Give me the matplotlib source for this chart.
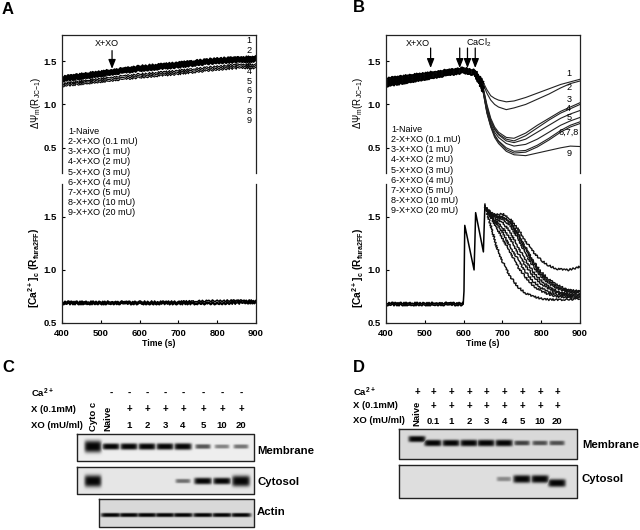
import numpy as np
import matplotlib
matplotlib.use("Agg")
import matplotlib.pyplot as plt

plt.rcParams['font.family'] = ['Liberation Sans', 'DejaVu Sans']
plt.rcParams['mathtext.fontset'] = 'custom'
plt.rcParams['mathtext.rm'] = 'Liberation Sans'
plt.rcParams['mathtext.bf'] = 'Liberation Sans:bold'
plt.rcParams['mathtext.it'] = 'Liberation Sans:italic'

# ---------- data ----------
legend_labels = ['1-Naive', '2-X+XO (0.1 mU)', '3-X+XO (1 mU)', '4-X+XO (2 mU)', '5-X+XO (3 mU)',
                 '6-X+XO (4 mU)', '7-X+XO (5 mU)', '8-X+XO (10 mU)', '9-X+XO (20 mU)']

time_a = [400, 500, 600, 700, 800, 860, 900]
psi_a1 = [1.32, 1.38, 1.44, 1.48, 1.53, 1.54, 1.55]
psi_a2 = [1.31, 1.37, 1.43, 1.47, 1.52, 1.53, 1.54]
psi_a3 = [1.30, 1.36, 1.42, 1.46, 1.51, 1.52, 1.53]
psi_a4 = [1.29, 1.35, 1.41, 1.45, 1.50, 1.51, 1.52]
psi_a5 = [1.28, 1.34, 1.40, 1.44, 1.49, 1.50, 1.51]
psi_a6 = [1.27, 1.33, 1.39, 1.43, 1.48, 1.49, 1.50]
psi_a7 = [1.24, 1.30, 1.35, 1.39, 1.44, 1.46, 1.46]
psi_a8 = [1.23, 1.28, 1.33, 1.37, 1.42, 1.44, 1.44]
psi_a9 = [1.21, 1.26, 1.31, 1.35, 1.40, 1.42, 1.42]
psi_a = [psi_a1, psi_a2, psi_a3, psi_a4, psi_a5, psi_a6, psi_a7, psi_a8, psi_a9]

ca_time_a = [400, 500, 600, 700, 800, 900]
ca_a1 = [0.70, 0.70, 0.70, 0.70, 0.71, 0.71]
ca_a2 = [0.69, 0.69, 0.69, 0.69, 0.69, 0.70]
ca_a3 = [0.68, 0.68, 0.68, 0.68, 0.68, 0.69]

time_b = [400, 500, 600, 630, 650, 660, 670, 680, 690, 710, 730, 760, 790, 820, 850, 875, 900]
psi_b1 = [1.30, 1.36, 1.42, 1.39, 1.26, 1.17, 1.10, 1.07, 1.05, 1.03, 1.04, 1.08, 1.13, 1.18, 1.23, 1.26, 1.29]
psi_b2 = [1.28, 1.34, 1.41, 1.37, 1.24, 1.13, 1.05, 1.00, 0.97, 0.94, 0.96, 1.00, 1.06, 1.12, 1.19, 1.24, 1.27]
psi_b3 = [1.27, 1.33, 1.40, 1.36, 1.20, 1.00, 0.84, 0.74, 0.68, 0.62, 0.61, 0.67, 0.76, 0.84, 0.92, 0.97, 1.02]
psi_b4 = [1.26, 1.33, 1.39, 1.36, 1.20, 0.98, 0.82, 0.72, 0.66, 0.60, 0.58, 0.64, 0.73, 0.82, 0.90, 0.95, 1.00]
psi_b5 = [1.25, 1.32, 1.39, 1.36, 1.19, 0.96, 0.80, 0.71, 0.65, 0.58, 0.56, 0.60, 0.68, 0.76, 0.84, 0.89, 0.93]
psi_b6 = [1.24, 1.31, 1.38, 1.35, 1.18, 0.94, 0.78, 0.68, 0.62, 0.55, 0.52, 0.54, 0.60, 0.68, 0.76, 0.81, 0.85]
psi_b7 = [1.23, 1.31, 1.38, 1.35, 1.16, 0.92, 0.76, 0.65, 0.58, 0.50, 0.46, 0.47, 0.53, 0.61, 0.70, 0.76, 0.80]
psi_b8 = [1.22, 1.30, 1.37, 1.34, 1.16, 0.91, 0.75, 0.64, 0.57, 0.48, 0.44, 0.45, 0.51, 0.59, 0.68, 0.74, 0.78]
psi_b9 = [1.21, 1.29, 1.37, 1.34, 1.15, 0.90, 0.74, 0.62, 0.55, 0.46, 0.42, 0.41, 0.44, 0.47, 0.50, 0.52, 0.515]
psi_b = [psi_b1, psi_b2, psi_b3, psi_b4, psi_b5, psi_b6, psi_b7, psi_b8, psi_b9]

spike_time = [400, 500, 599, 601, 603, 627, 629, 631, 651, 653, 655]
spike_ca = [0.68, 0.68, 0.68, 0.80, 1.42, 1.00, 1.25, 1.54, 1.17, 1.40, 1.62]
decay_time = [655, 670, 685, 700, 720, 740, 760, 780, 800, 820, 840, 870, 900]
ca_b1 = [1.60, 1.42, 1.22, 1.08, 0.94, 0.84, 0.78, 0.75, 0.73, 0.72, 0.72, 0.72, 0.73]
ca_b2 = [1.60, 1.50, 1.40, 1.30, 1.17, 1.03, 0.93, 0.85, 0.80, 0.77, 0.75, 0.74, 0.74]
ca_b3 = [1.60, 1.50, 1.44, 1.36, 1.22, 1.10, 0.98, 0.89, 0.83, 0.79, 0.77, 0.75, 0.75]
ca_b4 = [1.60, 1.50, 1.46, 1.40, 1.30, 1.16, 1.04, 0.94, 0.87, 0.82, 0.79, 0.76, 0.76]
ca_b5 = [1.60, 1.52, 1.48, 1.45, 1.36, 1.22, 1.09, 0.98, 0.90, 0.84, 0.80, 0.77, 0.77]
ca_b6 = [1.60, 1.52, 1.50, 1.48, 1.42, 1.30, 1.15, 1.03, 0.94, 0.87, 0.83, 0.79, 0.78]
ca_b7 = [1.60, 1.53, 1.50, 1.50, 1.45, 1.33, 1.19, 1.06, 0.96, 0.89, 0.84, 0.80, 0.79]
ca_b8 = [1.60, 1.53, 1.51, 1.50, 1.46, 1.35, 1.21, 1.08, 0.98, 0.91, 0.86, 0.81, 0.80]
ca_b9 = [1.60, 1.54, 1.52, 1.53, 1.48, 1.39, 1.27, 1.17, 1.09, 1.04, 1.01, 1.00, 1.03]
ca_b = [ca_b1, ca_b2, ca_b3, ca_b4, ca_b5, ca_b6, ca_b7, ca_b8, ca_b9]

lanes_c = ['Cyto c', 'Naive', '1', '2', '3', '4', '5', '10', '20']
c_membrane = [1.00, 0.90, 0.95, 0.95, 0.95, 1.00, 0.50, 0.35, 0.40]
c_cytosol = [1.00, 0.00, 0.00, 0.00, 0.00, 0.40, 1.00, 1.00, 1.00]
c_actin = [0.00, 0.85, 0.85, 0.85, 0.85, 0.85, 0.85, 0.85, 0.85]
lanes_d = ['Naive', '0.1', '1', '2', '3', '4', '5', '10', '20']
d_membrane = [0.90, 0.95, 0.95, 1.00, 1.00, 1.00, 0.55, 0.50, 0.50]
d_cytosol = [0.00, 0.00, 0.00, 0.00, 0.00, 0.30, 1.00, 1.00, 1.00]

# ---------- layout ----------
W, H = 640, 530
fig = plt.figure(figsize=(W / 100, H / 100), dpi=100, facecolor='white')


def ax_px(l, t, r, b, **kw):
    return fig.add_axes([l / W, 1 - b / H, (r - l) / W, (b - t) / H], **kw)


XL, XR = {'A': 62, 'B': 386}, {'A': 256, 'B': 580}
SK = (0.9, 3, 2)


def noisy(ax, x, y, **kw):
    ln, = ax.plot(x, y, **kw)
    ln.set_sketch_params(*SK)
    return ln


def style(ax, upper):
    ax.set_xlim(400, 900)
    ax.spines['top'].set_visible(upper)
    ax.spines['bottom'].set_visible(not upper)
    for s in ax.spines.values():
        s.set_linewidth(0.9)
        s.set_color('#222222')
    ax.set_yticks([0.5, 1.0, 1.5])
    ax.set_yticklabels(['0.5', '1.0', '1.5'], fontsize=6.8, fontweight='bold')
    ax.tick_params(axis='y', direction='in', length=2, width=0.8, pad=4)
    if upper:
        ax.set_xticks([])
    else:
        ax.set_xticks([400, 500, 600, 700, 800, 900])
        ax.set_xticklabels(['400', '500', '600', '700', '800', '900'], fontsize=6.8, fontweight='bold')
        ax.tick_params(axis='x', direction='in', length=2, width=0.8, pad=4)
    ax.patch.set_alpha(0)


axes = {}
for k in 'AB':
    up = ax_px(XL[k], 35, XR[k], 173)
    up.set_ylim(0.21, 1.80)
    low = ax_px(XL[k], 184, XR[k], 323)
    low.set_ylim(0.5, 1.81)
    style(up, True)
    style(low, False)
    axes[k] = (up, low)

# Panel A traces
for s, lw in zip(psi_a, [1.3] * 6 + [0.8] * 3):
    noisy(axes['A'][0], time_a, s, color='black', lw=lw)
for s in (ca_a1, ca_a2, ca_a3):
    noisy(axes['A'][1], ca_time_a, s, color='black', lw=1.1)

# Panel B traces
for s in psi_b:
    axes['B'][0].plot(time_b, s, color='#222222', lw=0.8)
    noisy(axes['B'][0], time_b[:5], s[:5], color='black', lw=1.3)
axes['B'][1].plot(spike_time, spike_ca, color='black', lw=1.1)
noisy(axes['B'][1], [400, 500, 599], [0.69, 0.69, 0.69], color='black', lw=1.1)
noisy(axes['B'][1], [400, 500, 599], [0.67, 0.67, 0.67], color='black', lw=1.1)
for s in ca_b:
    noisy(axes['B'][1], decay_time, s, color='#111111', lw=1.0)

# Curve numbers
a_nums = [('1', 1.74), ('2', 1.62), ('3', 1.50), ('4', 1.385), ('5', 1.27),
          ('6', 1.155), ('7', 1.04), ('8', 0.92), ('9', 0.81)]
for t, y in a_nums:
    axes['A'][0].text(883, y, t, fontsize=6.6, ha='center', va='center')
b_nums = [('1', 1.36), ('2', 1.19), ('3', 1.06), ('4', 0.955), ('5', 0.85), ('6,7,8', 0.675), ('9', 0.44)]
for t, y in b_nums:
    axes['B'][0].text(871, y, t, fontsize=6.6, ha='center', va='center')

# Arrows
arrow = dict(arrowstyle='-|>,head_length=0.55,head_width=0.22', color='black', lw=0.9, shrinkA=0, shrinkB=0)
axes['A'][0].annotate('', xy=(529, 1.41), xytext=(529, 1.62), arrowprops=arrow)
for x in [515, 590, 610, 630]:
    axes['B'][0].annotate('', xy=(x, 1.42), xytext=(x, 1.65), arrowprops=arrow)

# Overlay in pixel coordinates for free text and blots
ov = fig.add_axes([0, 0, 1, 1])
ov.set_xlim(0, W)
ov.set_ylim(H, 0)
ov.axis('off')
ov.patch.set_alpha(0)


def T(x, y, s, size=7, bold=False, ha='left', va='center', rot=0):
    ov.text(x, y, s, fontsize=size, fontweight='bold' if bold else 'normal', ha=ha, va=va, rotation=rot)


for k in 'AB':
    for i, lab in enumerate(legend_labels):
        T(68 if k == 'A' else 391, 131.7 + i * 10.08 - (2 if k == 'B' else 0), lab, size=6.5)

T(107, 44, 'X+XO', size=6.5, ha='center')
T(418, 44, 'X+XO', size=6.5, ha='center')
T(479, 43, r'CaCl$_{\mathregular{2}}$', size=6.5, ha='center')
T(159, 344, 'Time (s)', size=6.3, bold=True, ha='center')
T(483, 344, 'Time (s)', size=6.3, bold=True, ha='center')

psi_label = r'$\mathregular{\Delta\Psi_{m}(R_{JC\mathrm{-}1})}$'
ca_label = r'$\mathbf{[Ca^{2+}]_{c}\ (R_{fura2FF})}$'
T(36, 103, psi_label, size=7, ha='center', rot=90)
T(358, 103, psi_label, size=7, ha='center', rot=90)
T(34, 268, ca_label, size=7.4, ha='center', rot=90)
T(358, 268, ca_label, size=7.4, ha='center', rot=90)

for s, x, y in (('A', 2, 9), ('B', 353, 8), ('C', 2, 367), ('D', 353, 367)):
    T(x, y, s, size=12, bold=True)


# ---------- blots ----------
def blot(l, t, r, b, xs, vals, cy, bg, hw=8.8, hh=3.2, shifts=None, extra=None):
    px = np.arange(l, r) + 0.5
    py = np.arange(t, b) + 0.5
    X, Y = np.meshgrid(px, py)
    dark = np.zeros_like(X)
    for i, (x, v) in enumerate(zip(xs, vals)):
        if v <= 0:
            continue
        dy = shifts[i] if shifts else 0
        ww = hw * (0.75 + 0.25 * v)
        hh_i = hh * (0.45 + 0.6 * v)
        if extra and i in extra:
            ww, hh_i = extra[i]
        g = np.exp(-((X - x) / ww) ** 6) * np.exp(-(np.abs(Y - cy - dy) / hh_i) ** 3)
        dark = np.maximum(dark, g * min(1.0, v * 1.3))
    img = bg * (1 - dark) + 0.02 * dark
    ov.imshow(img, extent=(l, r, b, t), cmap='gray', vmin=0, vmax=1, aspect='auto',
              interpolation='bilinear', zorder=1)
    ov.plot([l, r, r, l, l], [t, t, b, b, t], color='#222222', lw=1.0, zorder=2)


xc = [93, 111, 129, 147, 165, 183, 203, 222, 241]
xd = [417, 433, 451, 469, 486, 504, 522, 540, 557]
blot(77, 434, 254, 461, xc, c_membrane, 446.5, 0.93, extra={0: (8.5, 6)})
blot(77, 467, 254, 494, xc, c_cytosol, 481, 0.90, extra={0: (8.5, 6), 8: (9, 5.5)})
blot(99, 499, 254, 527, xc, c_actin, 515, 0.85, hw=10.5, hh=2.2)
blot(399, 429, 577, 459, xd, d_membrane, 443, 0.85, shifts=[-4, 0, 0, 0, 0, 0, 0, 0, 0])
blot(399, 465, 577, 498, xd, d_cytosol, 479, 0.87, shifts=[0, 0, 0, 0, 0, 0, 0, 0, 4], hh=3.8)
ov.set_xlim(0, W)
ov.set_ylim(H, 0)

# Treatment rows, panel C
T(31, 393, r'$\mathbf{Ca^{2+}}$', size=6.8, bold=True)
T(31, 409, 'X (0.1mM)', size=6.8, bold=True)
T(31, 425, 'XO (mU/ml)', size=6.8, bold=True)
for x in xc[1:]:
    T(x, 393, '-', size=7, bold=True, ha='center')
for x in xc[2:]:
    T(x, 409, '+', size=7, bold=True, ha='center')
for x, lab in zip(xc[2:], lanes_c[2:]):
    T(x, 425.5, lab, size=6.8, bold=True, ha='center')
ov.text(93, 431, lanes_c[0], fontsize=6.8, fontweight='bold', rotation=90, ha='center', va='bottom')
ov.text(108, 431, lanes_c[1], fontsize=6.8, fontweight='bold', rotation=90, ha='center', va='bottom')
T(257, 451, 'Membrane', size=8.2, bold=True)
T(257, 482, 'Cytosol', size=8.2, bold=True)
T(257, 512, 'Actin', size=8.2, bold=True)

# Treatment rows, panel D
T(353, 392, r'$\mathbf{Ca^{2+}}$', size=6.8, bold=True)
T(353, 406, 'X (0.1mM)', size=6.8, bold=True)
T(353, 420.5, 'XO (mU/ml)', size=6.8, bold=True)
for x in xd:
    T(x, 392, '+', size=7, bold=True, ha='center')
for x in xd[1:]:
    T(x, 406, '+', size=7, bold=True, ha='center')
for x, lab in zip(xd[1:], lanes_d[1:]):
    T(x, 421, lab, size=6.8, bold=True, ha='center')
ov.text(417, 425.5, lanes_d[0], fontsize=6.8, fontweight='bold', rotation=90, ha='center', va='bottom')
T(582, 445, 'Membrane', size=8.2, bold=True)
T(581, 479, 'Cytosol', size=8.2, bold=True)

fig.savefig('out.png', dpi=100, facecolor='white')
